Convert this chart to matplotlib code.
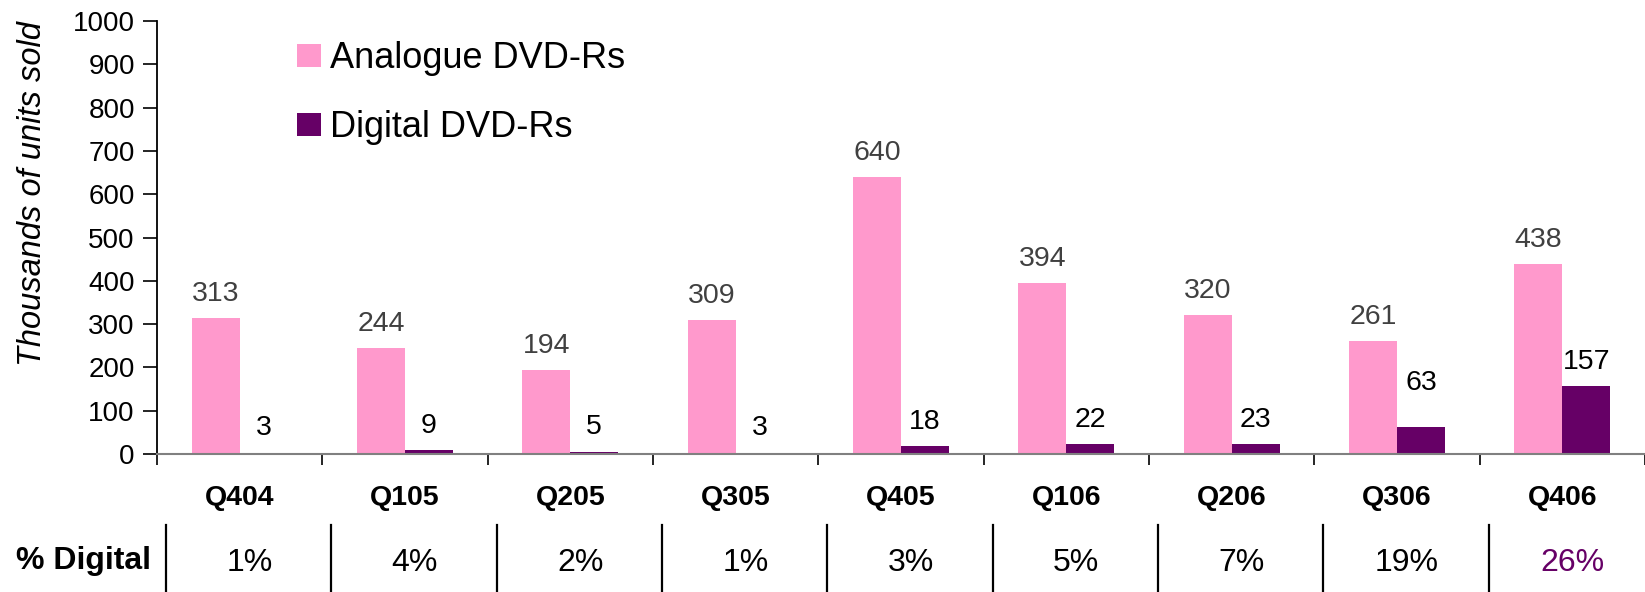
import matplotlib
matplotlib.use("Agg")
import matplotlib.pyplot as plt
import matplotlib.transforms as mtransforms
from matplotlib.patches import Patch
import numpy as np

plt.rcParams['font.family'] = ['Liberation Sans', 'DejaVu Sans']

quarters = ["Q404", "Q105", "Q205", "Q305", "Q405", "Q106", "Q206", "Q306", "Q406"]
analogue = [313, 244, 194, 309, 640, 394, 320, 261, 438]
digital = [3, 9, 5, 3, 18, 22, 23, 63, 157]
pct_digital = ["1%", "4%", "2%", "1%", "3%", "5%", "7%", "19%", "26%"]
series_names = ["Analogue DVD-Rs", "Digital DVD-Rs"]

PINK = "#FF99CC"
PURPLE = "#660066"

W, H = 1645, 592
fig = plt.figure(figsize=(W / 100, H / 100), dpi=100)
ax = fig.add_axes([157 / W, (H - 454) / H, (W - 157) / W, (454 - 21) / H])

x = np.arange(len(quarters))
bw = 0.29
b1 = ax.bar(x - bw / 2, analogue, bw, color=PINK, zorder=2)
b2 = ax.bar(x + bw / 2, digital, bw, color=PURPLE, zorder=2)

for xi, v in zip(x, analogue):
    ax.annotate(str(v), (xi - bw / 2, v), xytext=(0, 12.5), textcoords="offset points",
                ha="center", va="baseline", fontsize=20.5, color="#404040")
for i, (xi, v) in enumerate(zip(x, digital)):
    extra = 14 if quarters[i] == "Q306" else 0
    ax.annotate(str(v), (xi + bw / 2, v), xytext=(0, 12.5 + extra), textcoords="offset points",
                ha="center", va="baseline", fontsize=20.5, color="black")

ax.set_ylim(0, 1000)
ax.set_yticks(np.arange(0, 1001, 100))
ax.set_xlim(-0.5, 8.46)
ax.set_xticks(np.arange(-0.5, 9, 1.0))
ax.set_xticklabels([])
ax.set_xticks(x, minor=True)
ax.set_xticklabels(quarters, minor=True, fontsize=20.5, fontweight="bold")
ax.tick_params(axis="x", which="minor", length=0, pad=22)
ax.tick_params(axis="x", which="major", length=8, width=1.2, color="black", direction="out")
ax.tick_params(axis="y", length=10, width=1.2, labelsize=20, pad=6, direction="out")

for s in ["top", "right"]:
    ax.spines[s].set_visible(False)
ax.spines["left"].set_color("black")
ax.spines["left"].set_linewidth(1.3)
ax.spines["bottom"].set_color("#808080")
ax.spines["bottom"].set_linewidth(1.5)

fig.text(33 / W, 1 - 194 / H, "Thousands of units sold", rotation=90, ha="center", va="center",
         fontsize=23.5, style="italic")

handles = [Patch(facecolor=PINK, edgecolor="none"), Patch(facecolor=PURPLE, edgecolor="none")]
fig.legend(handles, series_names, loc="upper left", bbox_to_anchor=(297 / W, 1 - 41 / H),
           frameon=False, fontsize=26, handlelength=0.665, handleheight=0.61,
           handletextpad=0.25, labelspacing=0.94, borderaxespad=0, borderpad=0)

# % Digital row
trans = mtransforms.blended_transform_factory(ax.transData, fig.transFigure)
fig.text(16 / W, 1 - 561 / H, "% Digital", ha="left", va="center", fontsize=23, fontweight="bold")
for b in np.arange(-0.5, 9, 1.0):
    ax.plot([b + 0.055, b + 0.055], [1 - 525 / H, 0], transform=trans, color="black",
            lw=1.6, clip_on=False)
for i, (xi, p) in enumerate(zip(x, pct_digital)):
    ax.text(xi + 0.06, 1 - 563 / H, p, transform=trans, ha="center", va="center", fontsize=23,
            color=PURPLE if i == len(x) - 1 else "black")

fig.savefig("out.png", dpi=100)
